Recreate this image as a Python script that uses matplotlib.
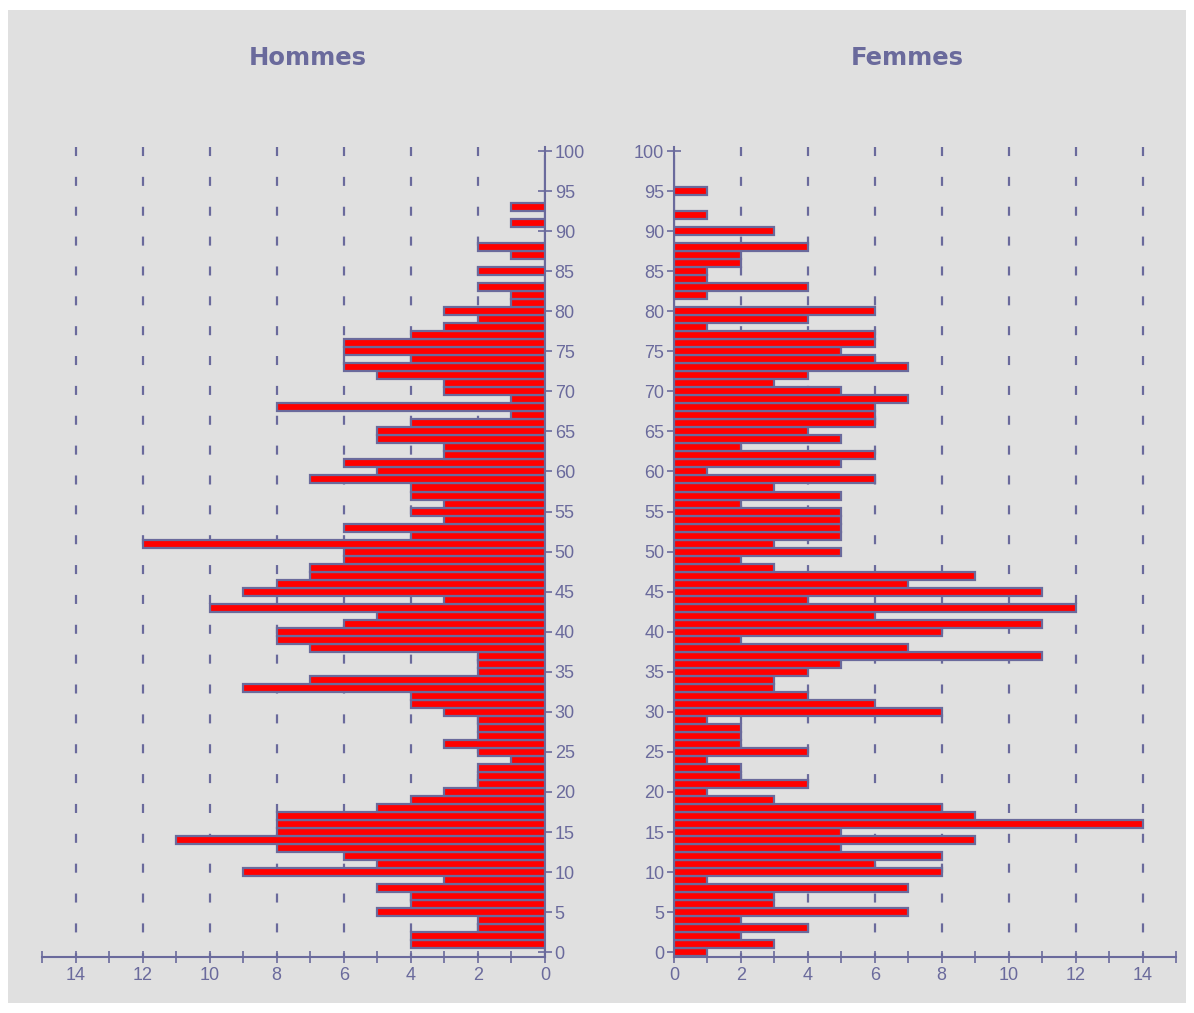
import matplotlib
matplotlib.use('Agg')
from matplotlib import pyplot as plt
from matplotlib.patches import Rectangle
from matplotlib.ticker import MultipleLocator

# effectifs par age (0 a 99 ans)
ages = list(range(100))
hommes = [0, 4, 4, 2, 2, 5, 4, 4, 5, 3,
          9, 5, 6, 8, 11, 8, 8, 8, 5, 4,
          3, 2, 2, 2, 1, 2, 3, 2, 2, 2,
          3, 4, 4, 9, 7, 2, 2, 2, 7, 8,
          8, 6, 5, 10, 3, 9, 8, 7, 7, 6,
          6, 12, 4, 6, 3, 4, 3, 4, 4, 7,
          5, 6, 3, 3, 5, 5, 4, 1, 8, 1,
          3, 3, 5, 6, 4, 6, 6, 4, 3, 2,
          3, 1, 1, 2, 0, 2, 0, 1, 2, 0,
          0, 1, 0, 1, 0, 0, 0, 0, 0, 0]
femmes = [1, 3, 2, 4, 2, 7, 3, 3, 7, 1,
          8, 6, 8, 5, 9, 5, 14, 9, 8, 3,
          1, 4, 2, 2, 1, 4, 2, 2, 2, 1,
          8, 6, 4, 3, 3, 4, 5, 11, 7, 2,
          8, 11, 6, 12, 4, 11, 7, 9, 3, 2,
          5, 3, 5, 5, 5, 5, 2, 5, 3, 6,
          1, 5, 6, 2, 5, 4, 6, 6, 6, 7,
          5, 3, 4, 7, 6, 5, 6, 6, 1, 4,
          6, 0, 1, 4, 1, 1, 2, 2, 4, 0,
          3, 0, 1, 0, 0, 1, 0, 0, 0, 0]

titres = ['Hommes', 'Femmes']
ticks_x = list(range(0, 15, 2))
ticks_y = list(range(0, 101, 5))

COL = '#6a6a9c'
W, H = 1194, 1013
plt.rcParams['lines.scale_dashes'] = False
plt.rcParams['font.family'] = ['Liberation Sans', 'DejaVu Sans']

fig = plt.figure(figsize=(W / 100, H / 100), dpi=100)
fig.patch.set_facecolor('white')
fig.patches.append(Rectangle((8 / W, 10 / H), 1178 / W, 993 / H,
                             transform=fig.transFigure, facecolor='#e0e0e0',
                             edgecolor='none', zorder=-10))

ax_h = fig.add_axes([42 / W, 56 / H, 503 / W, 810 / H])
ax_f = fig.add_axes([674 / W, 56 / H, 502 / W, 810 / H])


def dessiner(ax, valeurs):
    ax.set_facecolor('none')
    ax.barh(ages, valeurs, height=1.0, color='#ff0000', edgecolor=COL,
            linewidth=1.6, zorder=3)
    for v in range(2, 15, 2):
        ax.plot([v, v], [100.5, -0.6], color=COL, lw=1.6,
                dashes=(6.5, 15), zorder=1)
    ax.set_ylim(-0.6, 100.5)
    ax.set_xticks(ticks_x)
    ax.xaxis.set_minor_locator(MultipleLocator(1))
    ax.set_yticks(ticks_y)
    ax.tick_params(axis='x', which='both', direction='inout', length=8,
                   width=1.2, color=COL, labelcolor=COL, labelsize=13, pad=3)
    ax.tick_params(axis='y', direction='inout', length=10, width=1.2,
                   color=COL, labelcolor=COL, labelsize=13, pad=2)
    for s in ax.spines.values():
        s.set_color(COL)
        s.set_linewidth(1.5)
    ax.spines['top'].set_visible(False)


dessiner(ax_h, hommes)
ax_h.set_xlim(15, 0)
ax_h.yaxis.tick_right()
ax_h.spines['left'].set_visible(False)

dessiner(ax_f, femmes)
ax_f.set_xlim(0, 15)
ax_f.spines['right'].set_visible(False)

for x, t in zip([308, 907], titres):
    fig.text(x / W, 1 - 58 / H, t, ha='center', va='center', fontsize=17.5,
             fontweight='bold', color=COL, family='DejaVu Sans')

fig.savefig('out.png', dpi=100)
